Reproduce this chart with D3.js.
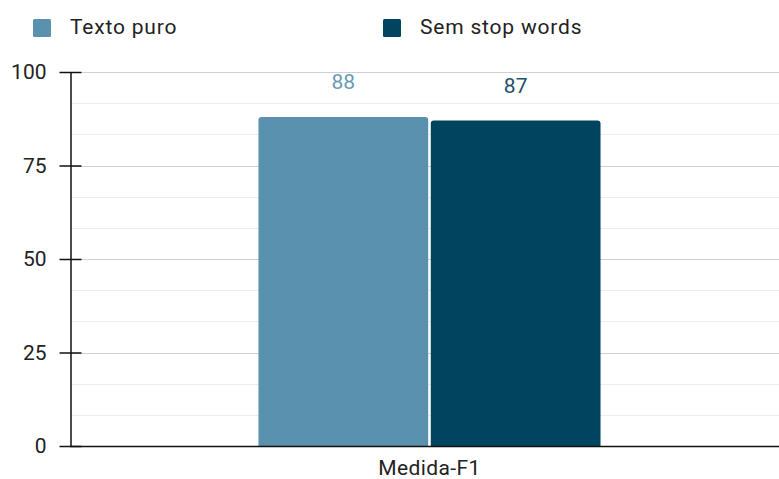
<!DOCTYPE html>
<html>
<head>
<meta charset="utf-8">
<script src="https://cdn.jsdelivr.net/npm/d3@7"></script>
<style>
  html, body { margin: 0; padding: 0; background: #fff; }
  svg { display: block; font-family: Roboto, "Liberation Sans", sans-serif; }
</style>
</head>
<body>
<svg id="chart" width="779" height="479"></svg>
<script>
// Chart data
const categories = ["Medida-F1"];
const seriesNames = ["Texto puro", "Sem stop words"];
const seriesValues = [[88], [87]];
const seriesColors = ["#5a91ae", "#01445f"];
const labelColors = ["#6b9ab6", "#1f4f69"];
const yTicks = [0, 25, 50, 75, 100];

const svg = d3.select("#chart");
const margin = { left: 70, right: -10, top: 72, bottom: 33 };
const W = 779, H = 479;
const FS = 21;

const y = d3.scaleLinear().domain([0, 100]).range([H - margin.bottom, margin.top]);
const x0 = d3.scaleBand().domain(categories).range([margin.left, W - margin.right]).paddingInner(0).paddingOuter(0.551);
const x1 = d3.scaleBand().domain(seriesNames).range([0, x0.bandwidth()]).paddingInner(0.015);

// Minor gridlines
const minor = d3.range(0, 101, 25 / 3).filter(v => Math.abs(v % 25) > 0.01 && Math.abs(v % 25 - 25) > 0.01);
svg.append("g").selectAll("line").data(minor).join("line")
  .attr("x1", margin.left).attr("x2", W)
  .attr("y1", d => Math.round(y(d)) + 0.5).attr("y2", d => Math.round(y(d)) + 0.5)
  .attr("stroke", "#ececec").attr("stroke-width", 1);

// Major gridlines
svg.append("g").selectAll("line").data(yTicks.filter(d => d > 0)).join("line")
  .attr("x1", margin.left).attr("x2", W)
  .attr("y1", d => Math.round(y(d)) + 0.5).attr("y2", d => Math.round(y(d)) + 0.5)
  .attr("stroke", "#d0d0d0").attr("stroke-width", 1.2);

// Bars with rounded tops
const r = 3;
function topRounded(xp, yp, w, h) {
  return `M${xp},${yp + h}V${yp + r}Q${xp},${yp} ${xp + r},${yp}H${xp + w - r}Q${xp + w},${yp} ${xp + w},${yp + r}V${yp + h}Z`;
}
const barData = [];
categories.forEach((c, ci) => {
  seriesNames.forEach((s, si) => {
    barData.push({ c, s, si, v: seriesValues[si][ci] });
  });
});
svg.append("g").selectAll("path").data(barData).join("path")
  .attr("d", d => {
    const xp = x0(d.c) + x1(d.s);
    const yp = y(d.v);
    return topRounded(xp, yp, x1.bandwidth(), y(0) - yp);
  })
  .attr("fill", d => seriesColors[d.si]);

// Value labels
svg.append("g").selectAll("text").data(barData).join("text")
  .attr("x", d => x0(d.c) + x1(d.s) + x1.bandwidth() / 2)
  .attr("y", d => d.si === 0 ? 89 : 93)
  .attr("text-anchor", "middle")
  .attr("font-size", FS)
  .attr("fill", d => labelColors[d.si])
  .text(d => d.v);

// Y axis
const yAxis = d3.axisLeft(y).tickValues(yTicks).tickSize(0).tickPadding(0);
const gy = svg.append("g").attr("transform", `translate(${margin.left + 0.5},0)`).call(yAxis);
gy.select(".domain").attr("stroke", "#111").attr("stroke-width", 1.5);
gy.selectAll(".tick line").remove();
gy.selectAll(".tick").append("line")
  .attr("x1", -11).attr("x2", 11).attr("stroke", "#111").attr("stroke-width", 1.5);
gy.selectAll(".tick text").attr("x", -24).attr("font-size", FS).attr("fill", "#222")
  .attr("font-family", "Roboto, sans-serif");

// Baseline
svg.append("line")
  .attr("x1", margin.left).attr("x2", W)
  .attr("y1", y(0) + 0.5).attr("y2", y(0) + 0.5)
  .attr("stroke", "#111").attr("stroke-width", 1.5);

// X axis labels
svg.append("g").selectAll("text").data(categories).join("text")
  .attr("x", d => x0(d) + x0.bandwidth() / 2)
  .attr("y", 475)
  .attr("text-anchor", "middle")
  .attr("font-size", FS)
  .attr("letter-spacing", 0.4)
  .attr("fill", "#222")
  .text(d => d);

// Legend
const legendX = [33, 383];
const legend = svg.append("g").selectAll("g").data(seriesNames).join("g")
  .attr("transform", (d, i) => `translate(${legendX[i]},19)`);
legend.append("rect").attr("width", 18).attr("height", 18).attr("rx", 1.5)
  .attr("fill", (d, i) => seriesColors[i]);
legend.append("text").attr("x", 37).attr("y", 15)
  .attr("font-size", FS).attr("letter-spacing", 0.8).attr("fill", "#222").text(d => d);
</script>
</body>
</html>
